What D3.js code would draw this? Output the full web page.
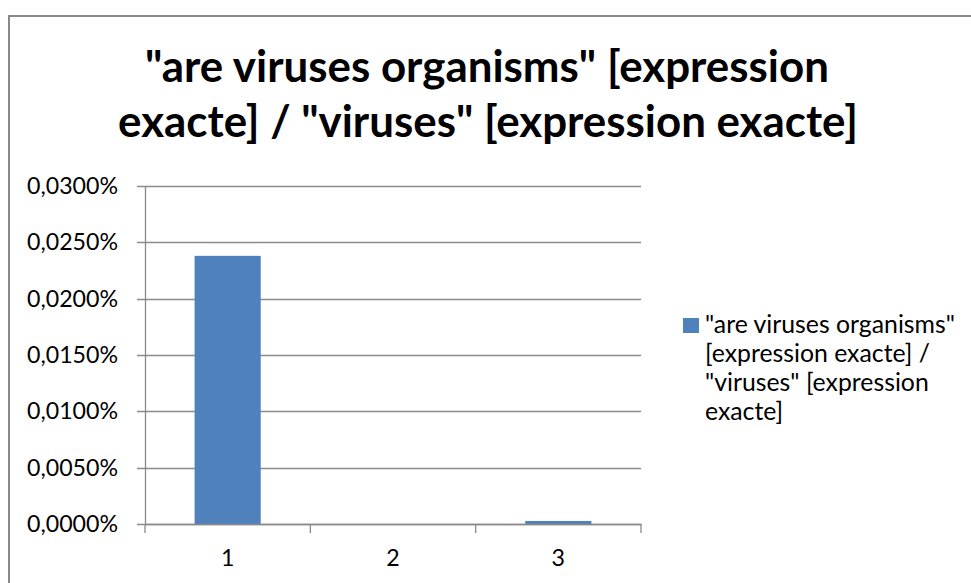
<!DOCTYPE html>
<html>
<head>
<meta charset="utf-8">
<script src="https://cdn.jsdelivr.net/npm/d3@7"></script>
<style>
  html, body { margin: 0; padding: 0; background: #fff; }
  svg { display: block; }
  text { font-family: Lato, "Open Sans", sans-serif; fill: #000; }
</style>
</head>
<body>
<svg id="chart" width="971" height="583"></svg>
<script>
const titleLines = ['"are viruses organisms" [expression', 'exacte] / "viruses" [expression exacte]'];
const categories = ["1", "2", "3"];
const seriesName = '"are viruses organisms" [expression exacte] / "viruses" [expression exacte]';
const values = [0.0238, 0, 0.00027];
const yTicks = [0, 0.005, 0.01, 0.015, 0.02, 0.025, 0.03];
const legendLines = ['"are viruses organisms"', '[expression exacte] /', '"viruses" [expression', 'exacte]'];

const svg = d3.select("#chart");
const grid = "#8a8a8a";
const barColor = "#4F81BD";

// outer frame
svg.append("rect").attr("x", 9).attr("y", 16).attr("width", 975).attr("height", 600)
  .attr("fill", "#fff").attr("stroke", "#888").attr("stroke-width", 2);

// fit helper
function fitWidth(sel, target) {
  const fs = parseFloat(sel.attr("font-size"));
  const w = sel.node().getComputedTextLength();
  sel.attr("font-size", (fs * target / w).toFixed(2));
}

// title
const t1 = svg.append("text").attr("x", 487).attr("y", 82).attr("text-anchor", "middle")
  .attr("font-weight", "bold").attr("font-size", 40).text(titleLines[0]);
const t2 = svg.append("text").attr("x", 488).attr("y", 137).attr("text-anchor", "middle")
  .attr("font-weight", "bold").attr("font-size", 40).text(titleLines[1]);
fitWidth(t1, 684);
fitWidth(t2, 740);

const x = d3.scaleBand().domain(categories).range([145, 641]).paddingInner(0.6).paddingOuter(0.3);
const y = d3.scaleLinear().domain([0, 0.03]).range([524, 186]);

// gridlines
svg.append("g").selectAll("line").data(yTicks).join("line")
  .attr("x1", 137).attr("x2", 641)
  .attr("y1", d => Math.round(y(d)) + 0.5).attr("y2", d => Math.round(y(d)) + 0.5)
  .attr("stroke", grid).attr("stroke-width", 1.3);

// y axis line
svg.append("line").attr("x1", 145.5).attr("x2", 145.5).attr("y1", 186).attr("y2", 525)
  .attr("stroke", grid).attr("stroke-width", 1.3);

// bars
svg.append("g").selectAll("rect").data(values).join("rect")
  .attr("x", (d, i) => x(categories[i]))
  .attr("width", x.bandwidth())
  .attr("y", d => y(d))
  .attr("height", d => y(0) - y(d))
  .attr("fill", barColor);

// x axis line
svg.append("line").attr("x1", 145).attr("x2", 641.5).attr("y1", 524.5).attr("y2", 524.5)
  .attr("stroke", grid).attr("stroke-width", 1.3);

// x ticks at category boundaries
const step = x.step();
const bounds = d3.range(categories.length + 1).map(i => x(categories[0]) - x.paddingOuter() * step - (step - x.bandwidth()) * 0 + i * step);
const b0 = x(categories[0]) + x.bandwidth() / 2 - step / 2;
svg.append("g").selectAll("line").data(d3.range(categories.length + 1)).join("line")
  .attr("x1", i => b0 + i * step).attr("x2", i => b0 + i * step)
  .attr("y1", 524).attr("y2", 533)
  .attr("stroke", grid).attr("stroke-width", 1.3);

// y labels
const fmt = d => d.toFixed(4).replace(".", ",") + "%";
const yl = svg.append("g").selectAll("text").data(yTicks).join("text")
  .attr("x", 118).attr("y", d => y(d) + 8)
  .attr("text-anchor", "end").attr("font-size", 22).text(fmt);
const ys = yl.filter((d, i) => i === yTicks.length - 1);
const fsY = 22 * 91 / ys.node().getComputedTextLength();
yl.attr("font-size", fsY.toFixed(2));

// x labels
svg.append("g").selectAll("text").data(categories).join("text")
  .attr("x", d => x(d) + x.bandwidth() / 2).attr("y", 566)
  .attr("text-anchor", "middle").attr("font-size", fsY.toFixed(2)).text(d => d);

// legend
svg.append("rect").attr("x", 683).attr("y", 318).attr("width", 16).attr("height", 15).attr("fill", barColor);
const lg = svg.append("g").selectAll("text").data(legendLines).join("text")
  .attr("x", 705).attr("y", (d, i) => 333 + i * 29)
  .attr("font-size", 22).text(d => d);
const fsL = 22 * 250 / lg.filter((d, i) => i === 0).node().getComputedTextLength();
lg.attr("font-size", fsL.toFixed(2));
</script>
</body>
</html>
